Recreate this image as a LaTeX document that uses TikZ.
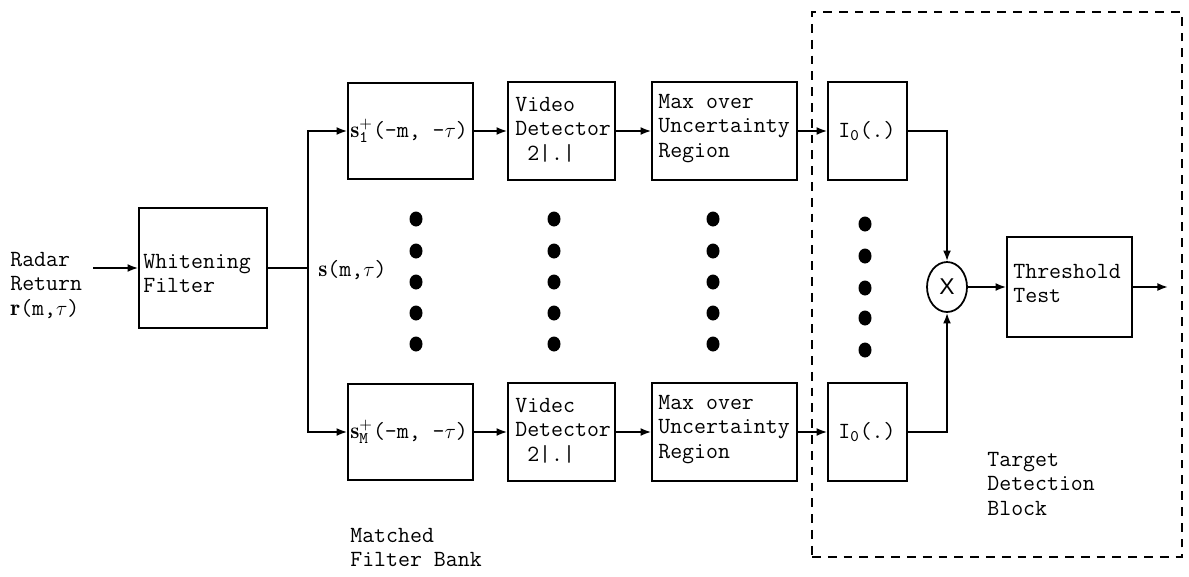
\documentclass[tikz,border=0pt]{standalone}
\usepackage{fontspec}
\newfontfamily\sansX{Liberation Sans}
\usetikzlibrary{arrows.meta,shapes.geometric}
\begin{document}
\begin{tikzpicture}[x=0.02cm,y=-0.02cm,
  every node/.style={font=\ttfamily\fontsize{13.2}{14}\selectfont},
  blk/.style={draw,line width=1pt,inner sep=0,rectangle},
  lbl/.style={inner sep=0,align=left,anchor=north west},
  wlbl/.style={inner sep=0,anchor=west},
  wire/.style={line width=1pt},
  conn/.style={line width=1pt,-{Latex[length=6pt,width=4.5pt]}},
  dot/.style={ellipse,fill,inner sep=0,minimum width=0.26cm,minimum height=0.3cm},
  tdbox/.style={draw,dashed,dash pattern=on 5pt off 4pt,line width=1pt,inner sep=0}]
\useasboundingbox (0,0) rectangle (1189,576);

% input
\node[lbl] (radar) at (10,251.5) {Radar\\Return\\$\mathbf{r}$(m,$\tau$)};
\coordinate (in) at (93,268);
\node[blk,minimum width=2.56cm,minimum height=2.4cm] (wf) at (203,268) {};
\node[lbl] (wft) at (143,253.5) {Whitening\\Filter};
\coordinate (br) at (308,268);
\node[wlbl] (smt) at (318,270) {$\mathbf{s}$(m,$\tau$)};

% top row
\node[blk,minimum width=2.5cm,minimum height=1.92cm] (s1) at (410.5,131) {};
\node[wlbl] (s1t) at (350,131) {$\mathbf{s}^{+}_{\mathtt{1}}$(-m,~-$\tau$)};
\node[blk,minimum width=2.14cm,minimum height=1.96cm] (v1) at (561.5,131) {};
\node[lbl] (v1t) at (515,96.5) {Video\\Detector\\~2|.|};
\node[blk,minimum width=2.9cm,minimum height=1.96cm] (m1) at (724.5,131) {};
\node[lbl] (m1t) at (658,93.5) {Max over\\Uncertainty\\Region};
\node[blk,minimum width=1.58cm,minimum height=1.96cm] (i1) at (867.5,131) {};
\node[inner sep=0] (i1t) at (867,131) {I$_{\mathtt{0}}$(.)};

% bottom row
\node[blk,minimum width=2.5cm,minimum height=1.92cm] (sM) at (410.5,432) {};
\node[wlbl] (sMt) at (350,432) {$\mathbf{s}^{+}_{\mathtt{M}}$(-m,~-$\tau$)};
\node[blk,minimum width=2.14cm,minimum height=1.96cm] (vM) at (561.5,432) {};
\node[lbl] (vMt) at (515,397.5) {Videc\\Detector\\~2|.|};
\node[blk,minimum width=2.9cm,minimum height=1.96cm] (mM) at (724.5,432) {};
\node[lbl] (mMt) at (658,394.5) {Max over\\Uncertainty\\Region};
\node[blk,minimum width=1.58cm,minimum height=1.96cm] (iM) at (867.5,432) {};
\node[inner sep=0] (iMt) at (867,432) {I$_{\mathtt{0}}$(.)};

% dots
\foreach \x in {416,554,713}
  \foreach \y in {219,251,282,313,344}
    \node[dot] (d\x-\y) at (\x,\y) {};
\foreach \y in {224,256,288,318,350}
  \node[dot] (d865-\y) at (865,\y) {};

% combiner and threshold
\node[draw,ellipse,line width=1pt,inner sep=0,minimum width=0.8cm,minimum height=1.0cm,font=\sansX\fontsize{13}{14}\selectfont] (mul) at (947,287) {X};
\node[blk,minimum width=2.5cm,minimum height=2.0cm] (th) at (1069.5,287) {};
\node[lbl] (tht) at (1013,263.5) {Threshold\\Test};
\coordinate (out) at (1168,287);

% target detection block
\node[tdbox,minimum width=7.4cm,minimum height=10.9cm] (tdb) at (997,284.5) {};
\node[lbl] (tdt) at (987,451.5) {Target\\Detection\\Block};
\node[lbl] (mfb) at (350,527.5) {Matched\\Filter Bank};

% connectors
\draw[conn] (in) -- (wf.west);
\draw[wire] (wf.east) -- (br);
\draw[conn] (br) |- (s1.west);
\draw[conn] (br) |- (sM.west);
\draw[conn] (s1.east) -- (v1.west);
\draw[conn] (v1.east) -- (m1.west);
\draw[conn] (m1.east) -- (i1.west);
\draw[conn] (sM.east) -- (vM.west);
\draw[conn] (vM.east) -- (mM.west);
\draw[conn] (mM.east) -- (iM.west);
\draw[conn] (i1.east) -| (mul.north);
\draw[conn] (iM.east) -| (mul.south);
\draw[conn] (mul.east) -- (th.west);
\draw[conn] (th.east) -- (out);
\end{tikzpicture}
\end{document}
